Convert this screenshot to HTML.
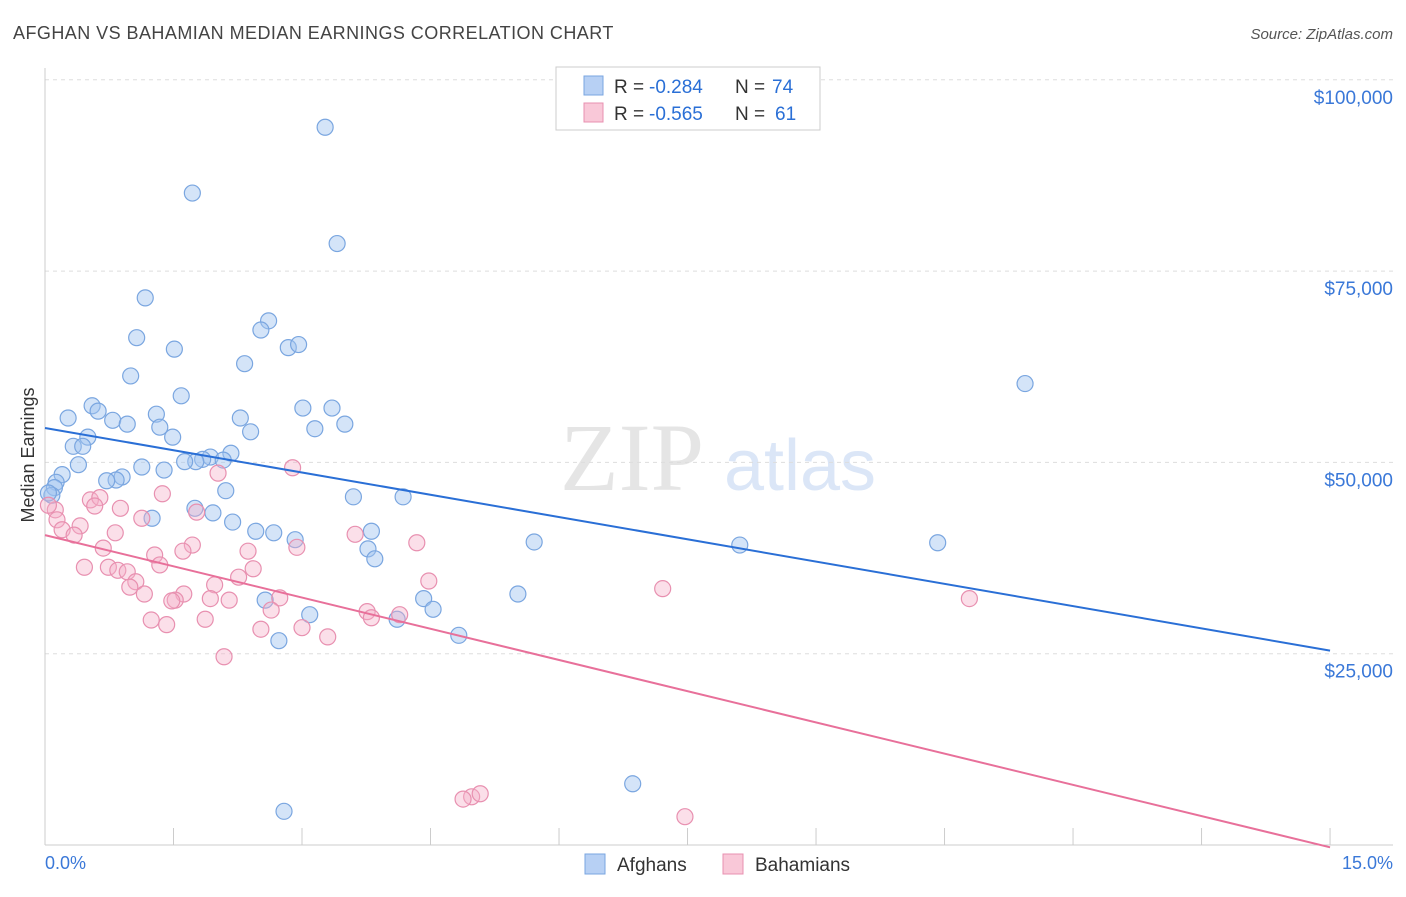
<!DOCTYPE html>
<html><head><meta charset="utf-8"><style>
body{margin:0;background:#fff;font-family:"Liberation Sans",sans-serif}
svg text{font-family:"Liberation Sans",sans-serif}
</style></head><body>
<svg id="c" width="1406" height="892">
<text x="13" y="39" font-size="18" fill="#444" letter-spacing="0.45">AFGHAN VS BAHAMIAN MEDIAN EARNINGS CORRELATION CHART</text>
<text x="1393" y="39" font-size="15" fill="#555" font-style="italic" text-anchor="end">Source: ZipAtlas.com</text>
<g opacity="0.5">
<text x="632" y="490" font-size="96" fill="#ccc" text-anchor="middle" font-family="Liberation Serif" style="font-family:'Liberation Serif',serif">ZIP</text>
<text x="800" y="490" font-size="72" fill="#b9cff0" text-anchor="middle">atlas</text>
</g>
<g id="grid"></g>
<g id="axes"></g>
<g id="marks"></g>
<text transform="translate(34,455) rotate(-90)" font-size="18" fill="#333" text-anchor="middle">Median Earnings</text>
<g>
<rect x="556" y="67" width="264" height="63" fill="#fff" stroke="#ccc"/>
<rect x="584" y="76" width="19" height="19" fill="#b7d0f4" stroke="#7aa6e0"/>
<rect x="584" y="103" width="19" height="19" fill="#f9c8d8" stroke="#e890b0"/>
<text x="614" y="93" font-size="19" fill="#333">R =</text>
<text x="649" y="93" font-size="19" fill="#2a6fd6">-0.284</text>
<text x="735" y="93" font-size="19" fill="#333">N =</text>
<text x="772" y="93" font-size="19" fill="#2a6fd6">74</text>
<text x="614" y="120" font-size="19" fill="#333">R =</text>
<text x="649" y="120" font-size="19" fill="#2a6fd6">-0.565</text>
<text x="735" y="120" font-size="19" fill="#333">N =</text>
<text x="775" y="120" font-size="19" fill="#2a6fd6">61</text>
</g>
<g>
<rect x="585" y="854" width="20" height="20" fill="#b7d0f4" stroke="#7aa6e0"/>
<text x="617" y="871" font-size="19" fill="#333">Afghans</text>
<rect x="723" y="854" width="20" height="20" fill="#f9c8d8" stroke="#e890b0"/>
<text x="755" y="871" font-size="19" fill="#333">Bahamians</text>
</g>
</svg>
<script>
const yTicks=[25,50,75,100];
const yTickLabels=["$25,000","$50,000","$75,000","$100,000"];
const afghanX=[3.27,1.72,3.41,1.17,2.61,2.52,1.07,1.51,2.84,2.96,2.33,1.00,11.44,1.59,0.55,0.62,3.01,3.35,0.27,0.79,1.30,2.28,0.96,3.50,3.15,1.34,2.40,0.50,1.49,0.33,0.44,2.17,1.93,1.84,2.08,1.76,0.39,1.13,1.63,1.39,0.20,0.90,0.83,0.72,0.13,0.11,0.08,2.11,3.60,4.18,1.75,1.96,1.25,2.19,3.81,2.46,2.67,5.71,2.92,8.11,10.42,3.77,3.85,5.52,2.57,4.42,4.53,3.09,4.11,4.83,2.73,6.86,2.79,0.04];
const afghanY=[93.8,85.2,78.6,71.5,68.5,67.3,66.3,64.8,65.0,65.4,62.9,61.3,60.3,58.7,57.4,56.7,57.1,57.1,55.8,55.5,56.3,55.8,55.0,55.0,54.4,54.6,54.0,53.3,53.3,52.1,52.1,51.2,50.7,50.4,50.3,50.1,49.7,49.4,50.1,49.0,48.4,48.1,47.7,47.6,47.4,46.7,45.7,46.3,45.5,45.5,44.0,43.4,42.7,42.2,41.0,41.0,40.8,39.6,39.9,39.2,39.5,38.7,37.4,32.8,32.0,32.2,30.8,30.1,29.5,27.4,26.7,8.0,4.4,46.0];
const bahamianX=[2.89,2.02,1.37,0.53,0.64,0.88,0.58,1.77,0.12,0.04,0.14,0.41,1.13,0.20,0.34,3.62,4.34,0.68,1.72,1.61,2.37,1.28,2.94,0.82,0.46,2.43,0.74,0.85,0.96,1.34,2.26,1.06,0.99,4.48,7.21,1.98,1.16,1.62,1.52,1.93,2.15,2.74,10.79,1.48,3.76,2.64,4.14,3.81,1.24,1.87,1.42,3.00,2.52,3.30,2.09,4.98,5.08,4.88,7.47];
const bahamianY=[49.3,48.6,45.9,45.1,45.4,44.0,44.3,43.5,43.8,44.4,42.5,41.7,42.7,41.2,40.5,40.6,39.5,38.8,39.2,38.4,38.4,37.9,38.9,40.8,36.3,36.1,36.3,35.9,35.7,36.6,35.0,34.4,33.7,34.5,33.5,34.0,32.8,32.8,32.0,32.2,32.0,32.3,32.2,31.9,30.5,30.7,30.1,29.7,29.4,29.5,28.8,28.4,28.2,27.2,24.6,6.3,6.7,6.0,3.7];
const afghanTrend=[54.5,25.4];
const bahamianTrend=[40.5,-0.3];
const trendX=[0,15];
const xS=v=>45+v*85.67, yS=v=>845-v*7.652;
const NS="http://www.w3.org/2000/svg";
function mk(p,t,a){const e=document.createElementNS(NS,t);for(const k in a)e.setAttribute(k,a[k]);document.getElementById(p).appendChild(e);return e;}
yTicks.forEach((t,i)=>{
 const g=mk('grid','line',{x1:45,x2:1393,y1:yS(t),y2:yS(t),stroke:'#ddd','stroke-dasharray':'4,4'});
 
 
 const l=mk('grid','text',{x:1393,y:yS(t)+24,'text-anchor':'end','font-size':19,fill:'#3a78d8'});
 l.textContent=yTickLabels[i];
 
 
});
mk('axes','line',{x1:45,x2:45,y1:68,y2:845,stroke:'#ccc'});
mk('axes','line',{x1:45,x2:1393,y1:845,y2:845,stroke:'#ccc'});
for(let i=1;i<=10;i++){const t=mk('axes','line',{x1:xS(i*1.5),x2:xS(i*1.5),y1:828,y2:845,stroke:'#ccc'});}
const x0=mk('axes','text',{x:45,y:869,'font-size':18,fill:'#3a78d8'});x0.textContent='0.0%';


const x1=mk('axes','text',{x:1393,y:869,'font-size':18,fill:'#3a78d8','text-anchor':'end'});x1.textContent='15.0%';


afghanX.forEach((x,i)=>{const c=mk('marks','circle',{cx:xS(x),cy:yS(afghanY[i]),r:8,fill:'rgba(160,196,240,0.45)',stroke:'#7aa6e0','stroke-width':1.2});
 
 });
bahamianX.forEach((x,i)=>{const c=mk('marks','circle',{cx:xS(x),cy:yS(bahamianY[i]),r:8,fill:'rgba(245,175,200,0.4)',stroke:'#e890b0','stroke-width':1.2});
 
 });
const l1=mk('marks','line',{x1:xS(trendX[0]),x2:xS(trendX[1]),y1:yS(afghanTrend[0]),y2:yS(afghanTrend[1]),stroke:'#2a6fd6','stroke-width':2});


const l2=mk('marks','line',{x1:xS(trendX[0]),x2:xS(trendX[1]),y1:yS(bahamianTrend[0]),y2:yS(bahamianTrend[1]),stroke:'#e8709a','stroke-width':2});


</script>
</body></html>
